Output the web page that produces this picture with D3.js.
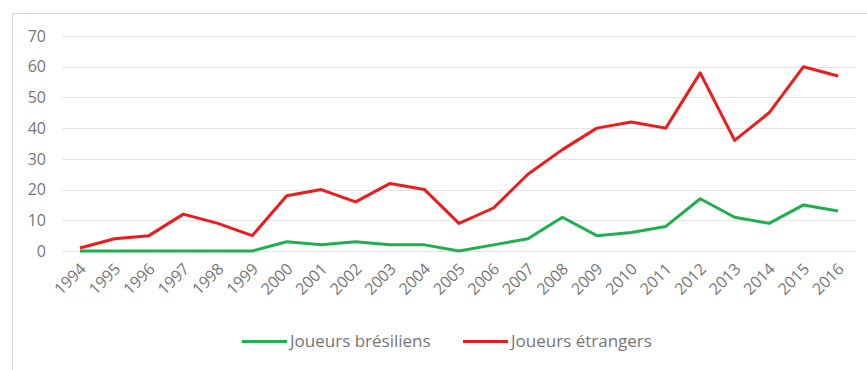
<!DOCTYPE html>
<html>
<head>
<meta charset="utf-8">
<script src="https://cdn.jsdelivr.net/npm/d3@7"></script>
<style>
  body { margin: 0; background: #fff; }
  svg { display: block; font-family: "Open Sans", "DejaVu Sans", sans-serif; }
</style>
</head>
<body>
<div id="chart"></div>
<script>
const years = ['1994','1995','1996','1997','1998','1999','2000','2001','2002','2003','2004','2005',
  '2006','2007','2008','2009','2010','2011','2012','2013','2014','2015','2016'];
const bresiliens = [0, 0, 0, 0, 0, 0, 3, 2, 3, 2, 2, 0, 2, 4, 11, 5, 6, 8, 17, 11, 9, 15, 13];
const etrangers = [1, 4, 5, 12, 9, 5, 18, 20, 16, 22, 20, 9, 14, 25, 33, 40, 42, 40, 58, 36, 45, 60, 57];
const yTicks = [0, 10, 20, 30, 40, 50, 60, 70];
const seriesNames = ['Joueurs brésiliens', 'Joueurs étrangers'];
const seriesColors = ['#1faf4e', '#ec1c1c'];

const width = 867, height = 370;
const textColor = '#767676';
const svg = d3.select('#chart').append('svg').attr('width', width).attr('height', height);

// outer frame of the chart area
svg.append('rect').attr('x', 12.5).attr('y', 13.5).attr('width', 870).attr('height', 370)
  .attr('fill', 'none').attr('stroke', '#d9d9d9').attr('stroke-width', 1);

const x = d3.scalePoint().domain(years).range([80, 838]);
const y = d3.scaleLinear().domain([0, 70]).range([251, 36]);

// gridlines
svg.append('g').selectAll('line').data(yTicks).join('line')
  .attr('x1', 62).attr('x2', 855)
  .attr('y1', d => Math.round(y(d)) + 0.5).attr('y2', d => Math.round(y(d)) + 0.5)
  .attr('stroke', '#e3e3e3').attr('stroke-width', 1);

// y labels
svg.append('g').selectAll('text').data(yTicks).join('text')
  .attr('x', 46).attr('y', d => y(d)).attr('dy', '0.36em')
  .attr('text-anchor', 'end').style('font-size', '16px').attr('fill', textColor)
  .text(d => d);

// x labels
svg.append('g').selectAll('text').data(years).join('text')
  .attr('transform', d => `translate(${x(d) + 3},${266}) rotate(-45)`)
  .attr('text-anchor', 'end').attr('dy', '0.35em')
  .style('font-size', '16px').attr('fill', textColor)
  .text(d => d);

const line = d3.line().x((d, i) => x(years[i])).y(d => y(d));
[bresiliens, etrangers].forEach((vals, k) => {
  svg.append('path').datum(vals).attr('d', line)
    .attr('fill', 'none').attr('stroke', seriesColors[k]).attr('stroke-width', 3)
    .attr('stroke-linejoin', 'round');
});

// legend
const legendX = [242, 463];
seriesNames.forEach((name, k) => {
  const g = svg.append('g').attr('transform', `translate(${legendX[k]},341.5)`);
  g.append('line').attr('x1', 0).attr('x2', 45).attr('stroke', seriesColors[k]).attr('stroke-width', 3);
  g.append('text').attr('x', 48).attr('dy', '0.35em').style('font-size', '17px').attr('fill', textColor).text(name);
});
</script>
</body>
</html>
